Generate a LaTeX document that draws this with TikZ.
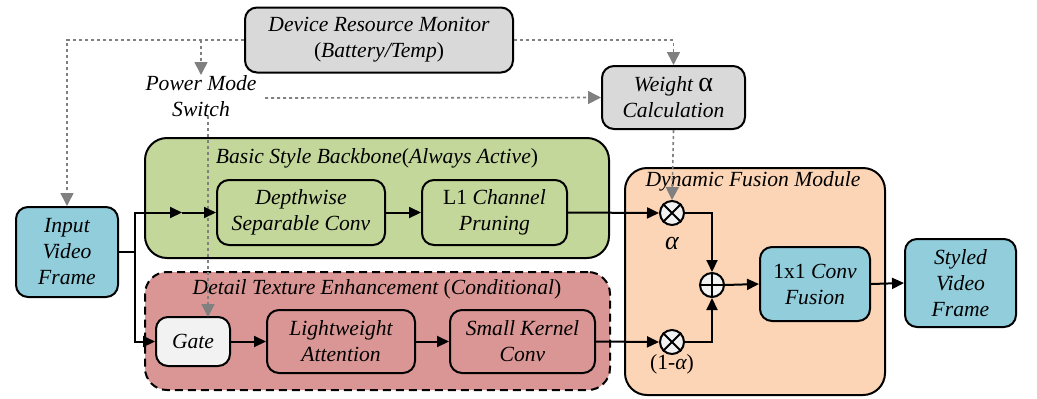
\documentclass[tikz,border=0pt]{standalone}
\usepackage{fontspec}
\setmainfont{Liberation Serif}
\usetikzlibrary{arrows.meta}
\definecolor{cgray}{HTML}{D9D9D9}
\definecolor{cblue}{HTML}{92CDDC}
\definecolor{cgreen}{HTML}{C4D79B}
\definecolor{cred}{HTML}{D99694}
\definecolor{corange}{HTML}{FBD5B5}
\definecolor{cgate}{HTML}{F2F2F2}
\definecolor{cline}{HTML}{808080}
\begin{document}
\begin{tikzpicture}[x=0.5pt,y=-0.5pt,
  every node/.style={font=\fontsize{10.8}{13}\selectfont\itshape},
  box/.style={draw, line width=1pt, rounded corners=6pt, align=center, inner sep=1pt},
  container/.style={draw, line width=1pt, rounded corners=11pt, inner sep=0pt},
  flow/.style={line width=1pt, -{Triangle[length=6pt,width=5.5pt]}},
  ctrl/.style={draw=cline, line width=0.8pt, dash pattern=on 1.6pt off 1.4pt, -{Triangle[length=6.5pt,width=6.5pt]}},
  opc/.style={draw, line width=1pt, circle, fill=cgate, minimum size=12pt, inner sep=0pt},
  lbl/.style={inner sep=0pt}
]
\useasboundingbox (0,0) rectangle (1037,398);
% containers
\node[container, fill=cgreen, minimum width=232pt, minimum height=60pt] (green) at (377,198) {};
\node[container, fill=cred, dashed, dash pattern=on 4pt off 2.5pt, minimum width=232.5pt, minimum height=59pt] (red) at (377.5,331) {};
\node[container, fill=corange, minimum width=130pt, minimum height=113.5pt] (orange) at (755,281.5) {};
\node[lbl] (gtitle) at (377,158) {Basic Style Backbone\upshape(\itshape Always Active\upshape)};
\node[lbl] (rtitle) at (377,289) {Detail Texture Enhancement \upshape(\itshape Conditional\upshape)};
\node[lbl] (otitle) at (753,181) {Dynamic Fusion Module};
% boxes
\node[box, fill=cgray, minimum width=134pt, minimum height=32.5pt] (dev) at (379,40) {Device Resource Monitor\\\upshape(\itshape Battery/Temp\upshape)};
\node[box, fill=cgray, minimum width=71.5pt, minimum height=31.5pt] (w) at (673.5,97.5) {Weight {\upshape\fontsize{14}{13}\selectfont α}\\Calculation};
\node[lbl, align=center] (pms) at (201,96) {Power Mode\\Switch};
\node[box, fill=cblue, minimum width=51pt, minimum height=45pt] (inp) at (67,252) {Input\\Video\\Frame};
\node[box, fill=cgreen, minimum width=84pt, minimum height=32.5pt] (dw) at (301,212.5) {Depthwise\\Separable Conv};
\node[box, fill=cgreen, minimum width=72.5pt, minimum height=32.5pt] (l1) at (494.5,212.5) {\upshape L1 \itshape Channel\\Pruning};
\node[box, fill=cgate, minimum width=37pt, minimum height=24.5pt] (gate) at (193,341.5) {Gate};
\node[box, fill=cred, minimum width=74pt, minimum height=31.5pt] (la) at (341,341.5) {Lightweight\\Attention};
\node[box, fill=cred, minimum width=72.5pt, minimum height=31.5pt] (sk) at (522.5,341.5) {Small Kernel\\Conv};
\node[opc] (ot1) at (672,213) {};
\node[opc] (ot2) at (672,342) {};
\node[opc] (op) at (712,285) {};
\draw[line width=1pt] (ot1.45) -- (ot1.225) (ot1.135) -- (ot1.315);
\draw[line width=1pt] (ot2.45) -- (ot2.225) (ot2.135) -- (ot2.315);
\draw[line width=1pt] (op.north) -- (op.south) (op.west) -- (op.east);
\node[lbl] (alab) at (672,243) {{\fontsize{13}{13}\selectfont α}};
\node[lbl] (blab) at (672,364) {\upshape(1-\itshape α\upshape)};
\node[box, fill=cblue, minimum width=55pt, minimum height=37pt] (cf) at (815,284) {\upshape 1x1 \itshape Conv\\Fusion};
\node[box, fill=cblue, minimum width=55.5pt, minimum height=44pt] (out) at (960.5,283) {Styled\\Video\\Frame};
% coordinates
\coordinate (sp) at (135,252);
\coordinate (m1) at (182,212.5);
\coordinate (pmsR) at (265,98);
\coordinate (swtop) at (208,116);
\coordinate (gtop) at (208,317);
% control (dotted) connectors
\draw[ctrl] (dev.west) -| (inp.north);
\draw[ctrl] (pms.north |- dev.west) -- (pms.north);
\draw[ctrl] (dev.east) -| (w.north);
\draw[ctrl] (pmsR) -- (w.west);
\draw[ctrl] (swtop) -- (gtop);
\draw[ctrl] (w.south) -- (ot1.north);
% data flow
\draw[line width=1pt] (inp.east) -- (sp);
\draw[flow] (sp) |- (m1);
\draw[flow] (m1) -- (dw.west);
\draw[flow] (sp) |- (gate.west);
\draw[flow] (dw.east) -- (l1.west);
\draw[flow] (gate.east) -- (la.west);
\draw[flow] (la.east) -- (sk.west);
\draw[flow] (l1.east) -- (ot1.west);
\draw[flow] (sk.east) -- (ot2.west);
\draw[flow] (ot1.east) -| (op.north);
\draw[flow] (ot2.east) -| (op.south);
\draw[flow] (op.east) -- (cf.west);
\draw[flow] (cf.east) -- (out.west);
\end{tikzpicture}
\end{document}
